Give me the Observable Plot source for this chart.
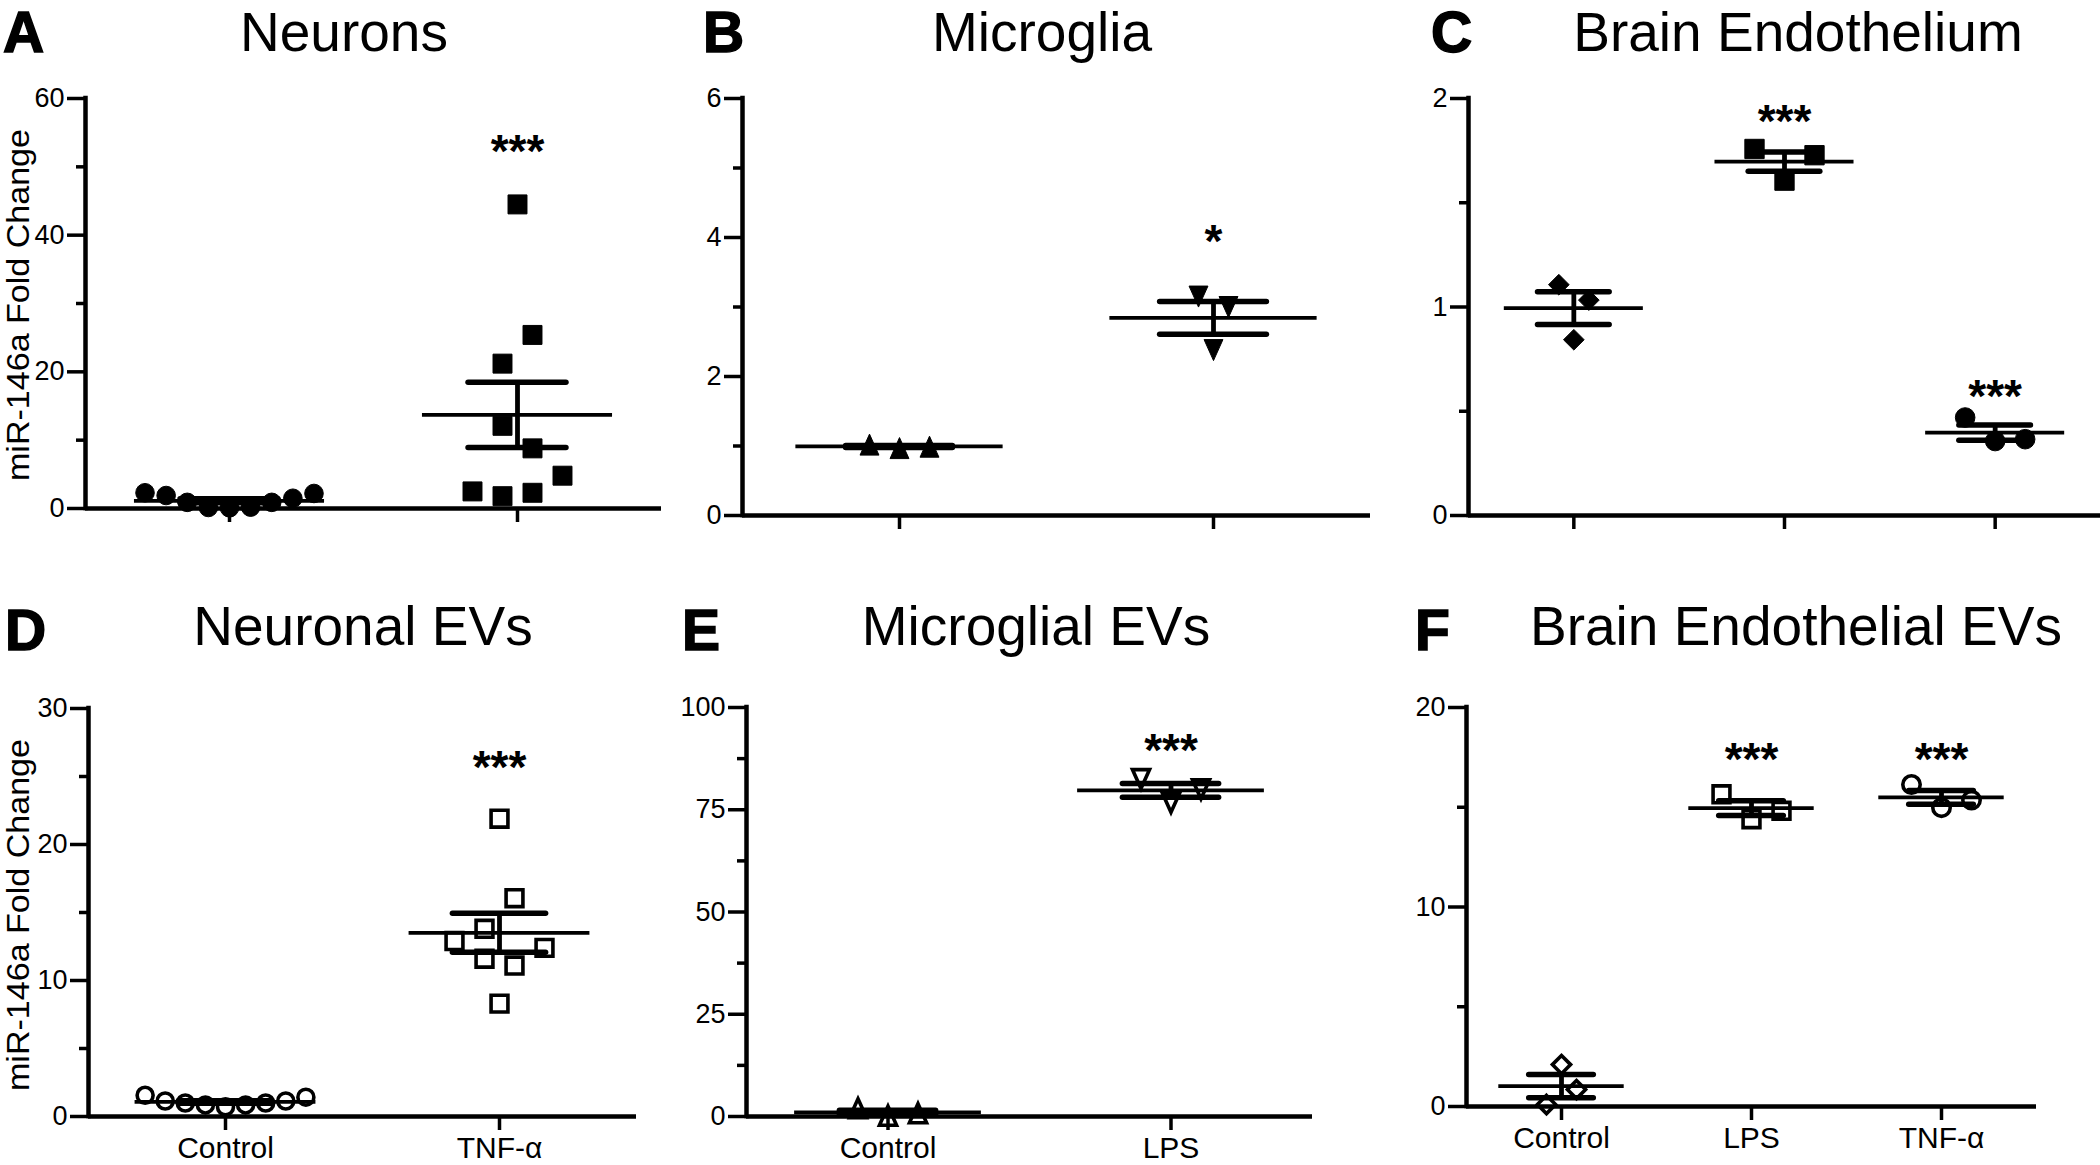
<!DOCTYPE html>
<html><head><meta charset="utf-8">
<script src="https://cdn.jsdelivr.net/npm/d3@7"></script>
<script src="https://cdn.jsdelivr.net/npm/@observablehq/plot@0.6"></script>
<style>
body{margin:0;background:#fff;}
#fig{position:relative;width:2100px;height:1165px;overflow:hidden;background:#fff;font-family:Arial,"Liberation Sans",sans-serif;}
.panel{position:absolute;}
#overlay{position:absolute;left:0;top:0;pointer-events:none;}
</style></head><body><div id="fig"></div>
<script>
// ---------- data ----------
const panelLetters = ["A","B","C","D","E","F"];
const panelTitles = ["Neurons","Microglia","Brain Endothelium","Neuronal EVs","Microglial EVs","Brain Endothelial EVs"];
const yAxisTitle = "miR-146a Fold Change";

const groupsNeurons = ["Control","TNF-α"];
const groupsMicroglia = ["Control","LPS"];
const groupsEndothelium = ["Control","LPS","TNF-α"];

// A Neurons
const neuronsControl = [2.3, 1.9, 0.9, 0.15, 0.1, 0.2, 0.9, 1.5, 2.2];
const neuronsTNF = [21.2, 25.4, 12.1, 8.8, 2.5, 1.8, 2.3, 4.8, 44.5];
// B Microglia
const microgliaControl = [1.02, 0.97, 0.99];
const microgliaLPS = [3.15, 3.0, 2.38];
// C Brain endothelium
const endoControl = [1.107, 1.033, 0.843];
const endoLPS = [1.758, 1.606, 1.728];
const endoTNF = [0.47, 0.357, 0.366];
// D Neuronal EVs
const neuronalEVControl = [1.56, 1.14, 0.99, 0.85, 0.71, 0.85, 0.99, 1.14, 1.42];
const neuronalEVTNF = [21.9, 13.8, 16.05, 12.9, 11.6, 11.1, 12.4, 8.3];
// E Microglial EVs
const microglialEVControl = [2.0, 0.2, 0.8];
const microglialEVLPS = [82.5, 76.7, 80.0];
// F Brain endothelial EVs
const endoEVControl = [2.1, 0.1, 0.85];
const endoEVLPS = [15.65, 14.4, 14.82];
const endoEVTNF = [16.14, 14.98, 15.36];

// y-axis scales: max, labelled step, minor step
const yMaxes = [60, 6, 2, 30, 100, 20];
const yMajorSteps = [20, 2, 1, 10, 25, 10];
const yMinorSteps = [10, 1, 0.5, 5, 12.5, 5];

// significance labels: [group index, label, height in data units]
const sigA = [[1, "***", 53.7]];
const sigB = [[1, "*", 4.09]];
const sigC = [[1, "***", 1.94], [2, "***", 0.62]];
const sigD = [[1, "***", 26.4]];
const sigE = [[1, "***", 92.1]];
const sigF = [[1, "***", 17.9], [2, "***", 17.9]];

// ---------- symbols ----------
const triUp = {draw(ctx, size){ const r = Math.sqrt(size/Math.PI); ctx.moveTo(0,-r); ctx.lineTo(0.9*r, r); ctx.lineTo(-0.9*r, r); ctx.closePath(); }};
const triDown = {draw(ctx, size){ const r = Math.sqrt(size/Math.PI); ctx.moveTo(0,r); ctx.lineTo(0.9*r,-r); ctx.lineTo(-0.9*r,-r); ctx.closePath(); }};

const FONT = 'Arial, "Liberation Sans", sans-serif';

// layout: frame [left, right, top(ymax), bottom(y=0)]
const panels = [
  {groups: groupsNeurons, series: [neuronsControl, neuronsTNF], sym: [["circle",9.3],["square",10.7]], open:false, sig: sigA, box:[85,661,98,508], xlabels:false},
  {groups: groupsMicroglia, series: [microgliaControl, microgliaLPS], sym: [[triUp,10.5],[triDown,10.5]], open:false, sig: sigB, box:[742,1370,98,515], xlabels:false},
  {groups: groupsEndothelium, series: [endoControl, endoLPS, endoTNF], sym: [["diamond2",9.3],["square",10.9],["circle",9.8]], open:false, sig: sigC, box:[1468,2100,98,515], xlabels:false},
  {groups: groupsNeurons, series: [neuronalEVControl, neuronalEVTNF], sym: [["circle",8],["square",9.5]], open:true, sig: sigD, box:[88,636,708,1116], xlabels:true},
  {groups: groupsMicroglia, series: [microglialEVControl, microglialEVLPS], sym: [[triUp,9.5],[triDown,9.5]], open:true, sig: sigE, box:[746,1312,707,1116], xlabels:true},
  {groups: groupsEndothelium, series: [endoEVControl, endoEVLPS, endoEVTNF], sym: [["diamond2",8.2],["square",9.5],["circle",8.7]], open:true, sig: sigF, box:[1466,2036,707,1106], xlabels:true}
];

// GraphPad-like scatter spreading: points close in value share a row
function spread(values, gi, pxPerX, pxPerY, rowMaxPx){
  const S = 30, T = 35;
  const order = values.map((v,k)=>k).sort((a,b)=>values[a]-values[b]);
  const rows = []; let cur = null;
  for (const k of order){
    if (cur && (values[k]-values[cur[0]])*pxPerY <= T) cur.push(k);
    else { cur = [k]; rows.push(cur); }
  }
  const out = new Array(values.length);
  for (const row of rows){
    row.sort((a,b)=>a-b);
    const m = row.length, s = Math.min(S, rowMaxPx/m);
    row.forEach((k,j)=>{ out[k] = {g: gi, x: gi + (j-(m-1)/2)*s/pxPerX, value: values[k]}; });
  }
  return out;
}

const fig = document.getElementById("fig");
panels.forEach((p, pi) => {
  const [L,R,T,B] = p.box;
  const ML = 80, MR = (R >= 2100 ? 0 : 10), MT = 30, MB = 49;
  const W = R-L, H = B-T;
  const n = p.groups.length;
  const ymax = yMaxes[pi];
  const xDomain = [-0.5, n-0.5];
  const pxPerX = W/n, pxPerY = H/ymax;
  const meanHalf = 0.33, capHalf = 0.17;

  const marks = [];
  const stats = p.series.map((vals, gi) => {
    const m = d3.mean(vals), se = d3.deviation(vals)/Math.sqrt(vals.length);
    return {g: gi, mean: m, lo: m-se, hi: m+se};
  });
  const majors = d3.range(0, ymax + 1e-9, yMajorSteps[pi]);
  const minors = d3.range(0, ymax + 1e-9, yMinorSteps[pi]).filter(v => !majors.some(M => Math.abs(M-v) < 1e-9));

  marks.push(Plot.axisY({ticks: minors, tickSize: 9, tickFormat: () => "", strokeWidth: 3.5, label: null}));
  marks.push(Plot.axisY({ticks: majors, tickSize: 18, tickPadding: 3, fontSize: 27, strokeWidth: 3.5, label: null, tickFormat: d => String(d)}));
  marks.push(Plot.axisX({ticks: d3.range(n), tickSize: 14, tickPadding: 6, fontSize: 30, strokeWidth: 3.5, label: null,
    tickFormat: i => p.xlabels ? p.groups[i] : ""}));
  marks.push(Plot.ruleY([0], {stroke: "black", strokeWidth: 4.5}));
  marks.push(Plot.ruleX([xDomain[0]], {y1: 0, y2: ymax, stroke: "black", strokeWidth: 4.5, strokeLinecap: "square"}));

  p.series.forEach((vals, gi) => {
    const pts = spread(vals, gi, pxPerX, pxPerY, 2*meanHalf*pxPerX);
    const [symbol, r] = p.sym[gi];
    marks.push(Plot.dot(pts, {x: "x", y: "value", symbol, r,
      fill: p.open ? "none" : "black", stroke: "black", strokeWidth: p.open ? 3.6 : 1}));
  });

  marks.push(Plot.ruleY(stats, {y: "mean", x1: d => d.g - meanHalf, x2: d => d.g + meanHalf, stroke: "black", strokeWidth: 3.8}));
  marks.push(Plot.ruleX(stats, {x: "g", y1: "lo", y2: "hi", stroke: "black", strokeWidth: 4.8}));
  marks.push(Plot.ruleY(stats, {y: "hi", x1: d => d.g - capHalf, x2: d => d.g + capHalf, stroke: "black", strokeWidth: 5.5, strokeLinecap: "round"}));
  marks.push(Plot.ruleY(stats, {y: "lo", x1: d => d.g - capHalf, x2: d => d.g + capHalf, stroke: "black", strokeWidth: 5.5, strokeLinecap: "round"}));

  const sigData = p.sig.map(([g, label, y]) => ({g, label, y}));
  marks.push(Plot.text(sigData, {x: "g", y: "y", text: "label", fontSize: 46, fontWeight: "bold", dy: 11, fill: "black", lineAnchor: "middle"}));

  const chart = Plot.plot({
    width: W+ML+MR, height: H+MT+MB,
    marginLeft: ML, marginRight: MR, marginTop: MT, marginBottom: MB,
    x: {domain: xDomain, axis: null},
    y: {domain: [0, ymax], axis: null},
    style: {fontFamily: FONT, background: "transparent", color: "black", overflow: "visible"},
    marks
  });
  const wrap = document.createElement("div");
  wrap.className = "panel";
  wrap.style.left = (L-ML) + "px";
  wrap.style.top = (T-MT) + "px";
  wrap.appendChild(chart);
  fig.appendChild(wrap);
});

// titles, panel letters and y-axis titles
const NS = "http://www.w3.org/2000/svg";
const ov = document.createElementNS(NS, "svg");
ov.setAttribute("id", "overlay");
ov.setAttribute("width", 2100); ov.setAttribute("height", 1165);
ov.style.fontFamily = FONT;
function addText(str, attrs){
  const t = document.createElementNS(NS, "text");
  for (const k in attrs) t.setAttribute(k, attrs[k]);
  t.textContent = str; ov.appendChild(t); return t;
}
const titleCenters = [[344,51],[1042,51],[1798,51],[363,645],[1036,645],[1796,645]];
const letterPos = [[3,52],[703,52],[1431,52],[5,650],[682,650],[1415,650]];
panelTitles.forEach((s,i) => addText(s, {x: titleCenters[i][0], y: titleCenters[i][1], "text-anchor":"middle", "font-size": 55, fill: "black"}));
panelLetters.forEach((s,i) => addText(s, {x: letterPos[i][0], y: letterPos[i][1], "font-size": 57, "font-weight": "bold", fill: "black", stroke: "black", "stroke-width": 1.5}));
[[29,305],[29,915]].forEach(([x,y]) => addText(yAxisTitle, {transform: `translate(${x},${y}) rotate(-90)`, "text-anchor":"middle", "font-size": 31, textLength: 352, lengthAdjust: "spacingAndGlyphs", fill: "black"}));
fig.appendChild(ov);
</script>
</body></html>
